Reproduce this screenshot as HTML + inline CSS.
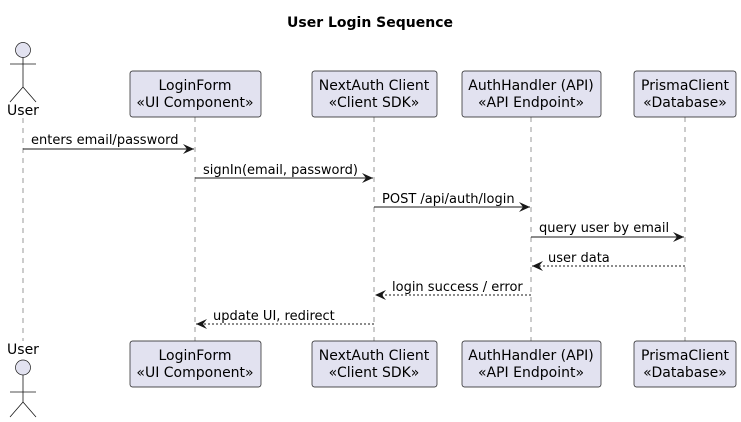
<!DOCTYPE html>
<html><head><meta charset="utf-8"><style>
html,body{margin:0;padding:0;background:#fff;}
svg{display:block;font-family:"DejaVu Sans","Liberation Sans",sans-serif;}
</style></head><body>
<svg width="741" height="422" viewBox="0 0 741 422" xmlns="http://www.w3.org/2000/svg">
<defs>
<marker id="a" markerWidth="12" markerHeight="10" refX="11" refY="5" orient="auto" markerUnits="userSpaceOnUse">
<path d="M0,0 L11,5 L0,10 L4,5 Z" fill="#181818"/></marker>
</defs>
<text x="370" y="27" text-anchor="middle" font-size="14" font-weight="bold">User Login Sequence</text>
<g stroke="#555" stroke-width="0.6" stroke-dasharray="5,5" fill="none">
<line x1="23" y1="118" x2="23" y2="341"/>
<line x1="195" y1="117" x2="195" y2="341"/>
<line x1="374" y1="117" x2="374" y2="341"/>
<line x1="531" y1="117" x2="531" y2="341"/>
<line x1="685" y1="117" x2="685" y2="341"/>
</g>
<g fill="#E2E2F0" stroke="#181818" stroke-width="0.7">
<circle cx="23" cy="50" r="7.5"/>
<circle cx="23" cy="367.5" r="7.5"/>
<rect x="130" y="71" width="131" height="46" rx="2.5"/>
<rect x="312" y="71" width="125" height="46" rx="2.5"/>
<rect x="462" y="71" width="139" height="46" rx="2.5"/>
<rect x="634" y="71" width="102" height="46" rx="2.5"/>
<rect x="130" y="341" width="131" height="46" rx="2.5"/>
<rect x="312" y="341" width="125" height="46" rx="2.5"/>
<rect x="462" y="341" width="139" height="46" rx="2.5"/>
<rect x="634" y="341" width="102" height="46" rx="2.5"/>
</g>
<g stroke="#181818" stroke-width="0.8" fill="none">
<path d="M23,57.5 V87 M10,64 H36 M23,87 L10,102 M23,87 L36,102"/>
<path d="M23,375 V402 M10,392 H36 M23,402 L10,417 M23,402 L36,417"/>
</g>
<g font-size="14" text-anchor="middle" fill="#000">
<text x="23" y="115">User</text>
<text x="23" y="354">User</text>
<text x="195" y="90">LoginForm</text><text x="195" y="107">«UI Component»</text>
<text x="374" y="90">NextAuth Client</text><text x="374" y="107">«Client SDK»</text>
<text x="531" y="90">AuthHandler (API)</text><text x="531" y="107">«API Endpoint»</text>
<text x="685" y="90">PrismaClient</text><text x="685" y="107">«Database»</text>
<text x="195" y="360">LoginForm</text><text x="195" y="377">«UI Component»</text>
<text x="374" y="360">NextAuth Client</text><text x="374" y="377">«Client SDK»</text>
<text x="531" y="360">AuthHandler (API)</text><text x="531" y="377">«API Endpoint»</text>
<text x="685" y="360">PrismaClient</text><text x="685" y="377">«Database»</text>
</g>
<g stroke="#181818" stroke-width="1" fill="none">
<line x1="23" y1="149" x2="194" y2="149" marker-end="url(#a)"/>
<line x1="195" y1="178" x2="373" y2="178" marker-end="url(#a)"/>
<line x1="374" y1="207" x2="530" y2="207" marker-end="url(#a)"/>
<line x1="531" y1="237" x2="684" y2="237" marker-end="url(#a)"/>
<line x1="685" y1="266" x2="532" y2="266" stroke-dasharray="2,2" marker-end="url(#a)"/>
<line x1="531" y1="295" x2="375" y2="295" stroke-dasharray="2,2" marker-end="url(#a)"/>
<line x1="374" y1="324" x2="196" y2="324" stroke-dasharray="2,2" marker-end="url(#a)"/>
</g>
<g font-size="13" fill="#000">
<text x="31" y="144">enters email/password</text>
<text x="203" y="174">signIn(email, password)</text>
<text x="382" y="203">POST /api/auth/login</text>
<text x="539" y="232">query user by email</text>
<text x="548" y="262">user data</text>
<text x="392" y="291">login success / error</text>
<text x="213" y="320">update UI, redirect</text>
</g>
</svg>
</body></html>
